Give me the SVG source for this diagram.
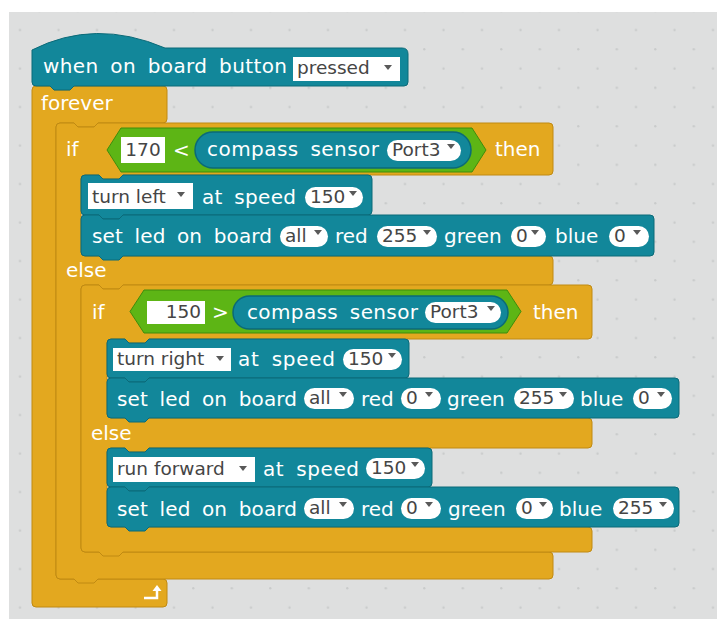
<svg xmlns="http://www.w3.org/2000/svg" width="717" height="619" viewBox="0 0 717 619">
<defs>
<pattern id="dots" x="10.4" y="20.4" width="38.5" height="38.5" patternUnits="userSpaceOnUse">
<circle cx="9.6" cy="9.6" r="1.2" fill="#c9cbcb"/>
<circle cx="28.9" cy="28.9" r="1.2" fill="#c9cbcb"/>
</pattern>
<style>
.teal{fill:#12879a;stroke:#0b6a78;stroke-width:1}
.gold{fill:#e3a81f;stroke:#c08a12;stroke-width:1}
.green{fill:#5db515;stroke:#3f8c0c;stroke-width:1}
.rep{fill:#12879a;stroke:#0b6a78;stroke-width:1.5}
.box{fill:#ffffff}
.lbl{font-family:"DejaVu Sans","Verdana",sans-serif;font-size:20px;fill:#ffffff;word-spacing:5px}
.val{font-family:"DejaVu Sans","Verdana",sans-serif;font-size:18.5px;fill:#454545}
.arr{fill:#595959}
</style>
</defs>
<rect x="0" y="0" width="717" height="619" fill="#ffffff"/>
<rect x="9" y="12" width="708" height="607" fill="#dedfdf"/>
<rect x="9" y="12" width="708" height="607" fill="url(#dots)"/>

<g id="forever">
<path class="gold" d="M36,86 H50 l4,4 h16 l4,-4 H163 Q167,86 167,90 V119 Q167,123 163,123 H98 l-4,4 h-16 l-4,-4 H60 Q56,123 56,127 V575 Q56,579 60,579 H163 Q167,579 167,583 V603 Q167,607 163,607 H36 Q32,607 32,603 V90 Q32,86 36,86 Z"/>
<text class="lbl" x="41" y="110">forever</text>
<path d="M144,598 H157 V590" fill="none" stroke="#ffffff" stroke-width="2.5"/>
<polygon points="152.5,591 157,585 161.5,591" fill="#ffffff"/>
</g>

<g id="hat">
<path class="teal" d="M32,50 Q95,18 165,48 H402 Q408,48 408,54 V82 Q408,86 404,86 H74 l-4,4 h-16 l-4,-4 H36 Q32,86 32,82 Z"/>
<text class="lbl" x="43" y="73" textLength="244">when on board button</text>
<rect class="box" x="293" y="57" width="107" height="24"/>
<text class="val" x="297" y="74">pressed</text>
<polygon class="arr" points="384,65 392,65 388,70"/>
</g>

<g id="if1">
<path class="gold" d="M60,123 H74 l4,4 h16 l4,-4 H549 Q553,123 553,127 V171 Q553,175 549,175 H123 l-4,4 h-16 l-4,-4 H85 Q81,175 81,179 V252 Q81,256 85,256 H549 Q553,256 553,260 V281 Q553,285 549,285 H123 l-4,4 h-16 l-4,-4 H85 Q81,285 81,289 V548 Q81,552 85,552 H549 Q553,552 553,556 V575 Q553,579 549,579 H98 l-4,4 h-16 l-4,-4 H60 Q56,579 56,575 V127 Q56,123 60,123 Z"/>
<text class="lbl" x="66" y="156">if</text>
<polygon class="green" points="107,150 121,128 472,128 486,150 472,172 121,172"/>
<rect class="box" x="121" y="137" width="44" height="26"/>
<text class="val" x="143" y="156" text-anchor="middle">170</text>
<text class="lbl" x="173" y="157">&lt;</text>
<rect class="rep" x="195" y="132" width="276" height="36" rx="18"/>
<text class="lbl" x="207" y="156" textLength="172">compass sensor</text>
<rect class="box" x="387" y="140" width="74" height="21" rx="10.5"/>
<text class="val" x="392" y="156">Port3</text>
<polygon class="arr" points="447,144 455,144 451,149"/>
<text class="lbl" x="495" y="156">then</text>
<text class="lbl" x="66" y="277">else</text>
</g>

<g id="turnLeft">
<path class="teal" d="M85,175 H99 l4,4 h16 l4,-4 H368 Q372,175 372,179 V211 Q372,215 368,215 H123 l-4,4 h-16 l-4,-4 H85 Q81,215 81,211 V179 Q81,175 85,175 Z"/>
<rect class="box" x="88" y="183" width="105" height="26"/>
<text class="val" x="92" y="203">turn left</text>
<polygon class="arr" points="177,192 185,192 181,197"/>
<text class="lbl" x="202" y="204" textLength="94">at speed</text>
<rect class="box" x="305" y="187" width="58" height="21" rx="10.5"/>
<text class="val" x="310" y="203">150</text>
<polygon class="arr" points="349,191 357,191 353,196"/>
</g>

<g id="led1">
<path class="teal" d="M85,215 H99 l4,4 h16 l4,-4 H650 Q654,215 654,219 V252 Q654,256 650,256 H123 l-4,4 h-16 l-4,-4 H85 Q81,256 81,252 V219 Q81,215 85,215 Z"/>
<text class="lbl" x="92" y="243" textLength="180">set led on board</text>
<rect class="box" x="280" y="226" width="48" height="21" rx="10.5"/>
<text class="val" x="285" y="242">all</text>
<polygon class="arr" points="314,230 322,230 318,235"/>
<text class="lbl" x="335" y="243">red</text>
<rect class="box" x="377" y="226" width="60" height="21" rx="10.5"/>
<text class="val" x="382" y="242">255</text>
<polygon class="arr" points="423,230 431,230 427,235"/>
<text class="lbl" x="444" y="243">green</text>
<rect class="box" x="511" y="226" width="35" height="21" rx="10.5"/>
<text class="val" x="516" y="242">0</text>
<polygon class="arr" points="531,230 539,230 535,235"/>
<text class="lbl" x="555" y="243">blue</text>
<rect class="box" x="609" y="226" width="40" height="21" rx="10.5"/>
<text class="val" x="614" y="242">0</text>
<polygon class="arr" points="633,230 641,230 637,235"/>
</g>

<g id="if2">
<path class="gold" d="M85,285 H99 l4,4 h16 l4,-4 H588 Q592,285 592,289 V335 Q592,339 588,339 H149 l-4,4 h-16 l-4,-4 H111 Q107,339 107,343 V414 Q107,418 111,418 H588 Q592,418 592,422 V444 Q592,448 588,448 H149 l-4,4 h-16 l-4,-4 H111 Q107,448 107,452 V523 Q107,527 111,527 H588 Q592,527 592,531 V548 Q592,552 588,552 H123 l-4,4 h-16 l-4,-4 H85 Q81,552 81,548 V289 Q81,285 85,285 Z"/>
<text class="lbl" x="92" y="319">if</text>
<polygon class="green" points="130,311.5 144,290 507,290 521,311.5 507,333 144,333"/>
<rect class="box" x="147" y="301" width="58" height="23"/>
<text class="val" x="201" y="318" text-anchor="end">150</text>
<text class="lbl" x="212" y="319">&gt;</text>
<rect class="rep" x="233" y="296" width="275" height="33" rx="16.5"/>
<text class="lbl" x="247" y="319" textLength="171">compass sensor</text>
<rect class="box" x="425" y="302" width="76" height="21" rx="10.5"/>
<text class="val" x="430" y="318">Port3</text>
<polygon class="arr" points="487,306 495,306 491,311"/>
<text class="lbl" x="533" y="319">then</text>
<text class="lbl" x="91" y="440">else</text>
</g>

<g id="turnRight">
<path class="teal" d="M111,339 H125 l4,4 h16 l4,-4 H405 Q409,339 409,343 V374 Q409,378 405,378 H149 l-4,4 h-16 l-4,-4 H111 Q107,378 107,374 V343 Q107,339 111,339 Z"/>
<rect class="box" x="113" y="348" width="118" height="23"/>
<text class="val" x="117" y="365">turn right</text>
<polygon class="arr" points="216,356 224,356 220,361"/>
<text class="lbl" x="238" y="366" textLength="97">at speed</text>
<rect class="box" x="343" y="349" width="59" height="21" rx="10.5"/>
<text class="val" x="348" y="365">150</text>
<polygon class="arr" points="388,353 396,353 392,358"/>
</g>

<g id="led2">
<path class="teal" d="M111,378 H125 l4,4 h16 l4,-4 H675 Q679,378 679,382 V414 Q679,418 675,418 H149 l-4,4 h-16 l-4,-4 H111 Q107,418 107,414 V382 Q107,378 111,378 Z"/>
<text class="lbl" x="117" y="406" textLength="180">set led on board</text>
<rect class="box" x="304" y="388" width="50" height="21" rx="10.5"/>
<text class="val" x="309" y="404">all</text>
<polygon class="arr" points="339,392 347,392 343,397"/>
<text class="lbl" x="361" y="406">red</text>
<rect class="box" x="401" y="388" width="40" height="21" rx="10.5"/>
<text class="val" x="406" y="404">0</text>
<polygon class="arr" points="425,392 433,392 429,397"/>
<text class="lbl" x="447" y="406">green</text>
<rect class="box" x="514" y="388" width="60" height="21" rx="10.5"/>
<text class="val" x="519" y="404">255</text>
<polygon class="arr" points="559,392 567,392 563,397"/>
<text class="lbl" x="580" y="406">blue</text>
<rect class="box" x="633" y="388" width="39" height="21" rx="10.5"/>
<text class="val" x="638" y="404">0</text>
<polygon class="arr" points="657,392 665,392 661,397"/>
</g>

<g id="runForward">
<path class="teal" d="M111,448 H125 l4,4 h16 l4,-4 H428 Q432,448 432,452 V483 Q432,487 428,487 H149 l-4,4 h-16 l-4,-4 H111 Q107,487 107,483 V452 Q107,448 111,448 Z"/>
<rect class="box" x="113" y="457" width="142" height="25"/>
<text class="val" x="117" y="475">run forward</text>
<polygon class="arr" points="239,466 247,466 243,471"/>
<text class="lbl" x="263" y="476" textLength="96">at speed</text>
<rect class="box" x="366" y="458" width="59" height="21" rx="10.5"/>
<text class="val" x="371" y="474">150</text>
<polygon class="arr" points="411,462 419,462 415,467"/>
</g>

<g id="led3">
<path class="teal" d="M111,487 H125 l4,4 h16 l4,-4 H675 Q679,487 679,491 V523 Q679,527 675,527 H149 l-4,4 h-16 l-4,-4 H111 Q107,527 107,523 V491 Q107,487 111,487 Z"/>
<text class="lbl" x="117" y="516" textLength="180">set led on board</text>
<rect class="box" x="304" y="498" width="50" height="21" rx="10.5"/>
<text class="val" x="309" y="514">all</text>
<polygon class="arr" points="339,502 347,502 343,507"/>
<text class="lbl" x="361" y="516">red</text>
<rect class="box" x="401" y="498" width="40" height="21" rx="10.5"/>
<text class="val" x="406" y="514">0</text>
<polygon class="arr" points="425,502 433,502 429,507"/>
<text class="lbl" x="448" y="516">green</text>
<rect class="box" x="516" y="498" width="37" height="21" rx="10.5"/>
<text class="val" x="521" y="514">0</text>
<polygon class="arr" points="539,502 547,502 543,507"/>
<text class="lbl" x="559" y="516">blue</text>
<rect class="box" x="613" y="498" width="61" height="21" rx="10.5"/>
<text class="val" x="618" y="514">255</text>
<polygon class="arr" points="659,502 667,502 663,507"/>
</g>
</svg>
